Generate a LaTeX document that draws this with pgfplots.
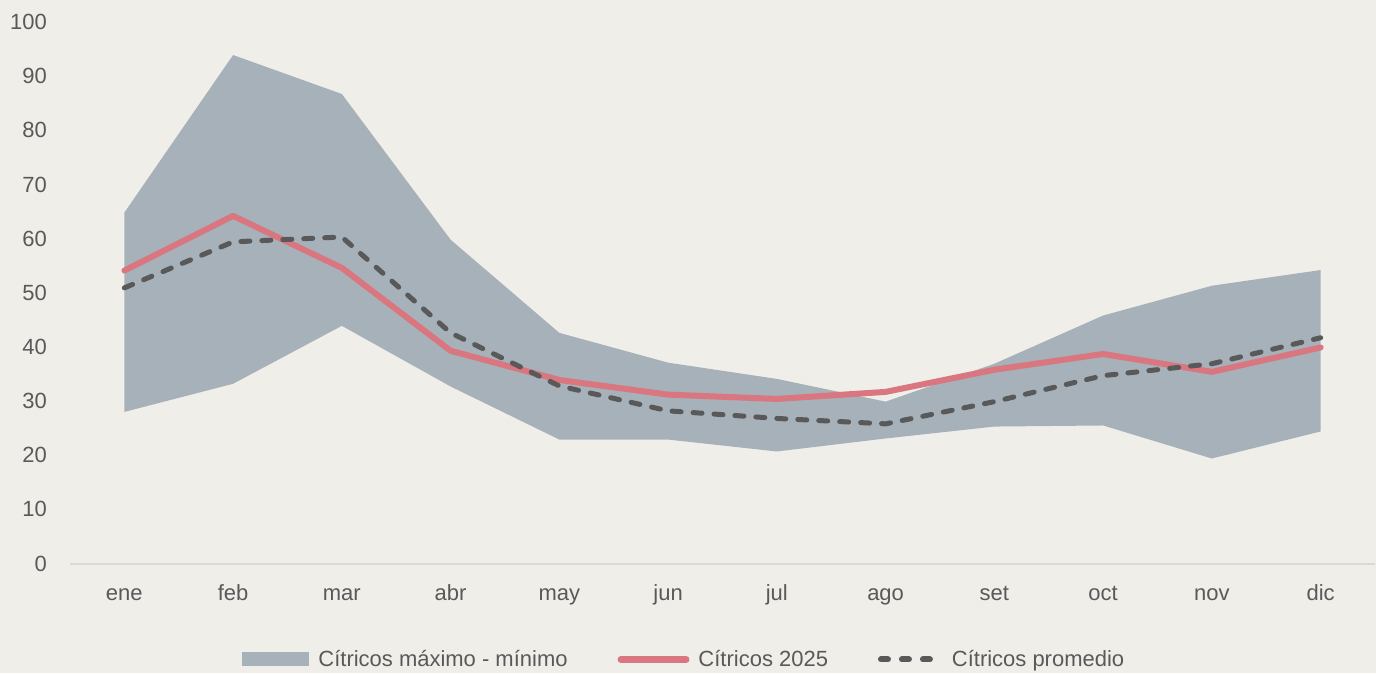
\documentclass[border=0pt]{standalone}
\usepackage{pgfplots}
\pgfplotsset{compat=1.18}
\usepgfplotslibrary{fillbetween}
\usepackage{fontspec}
\setmainfont{Liberation Sans}
\definecolor{bg}{HTML}{F0EEE9}
\definecolor{band}{HTML}{A7B1B9}
\definecolor{red25}{HTML}{D9767F}
\definecolor{prom}{HTML}{595959}
\definecolor{txt}{HTML}{595959}
\definecolor{axl}{HTML}{D9D9D9}
\pagecolor{bg}
\begin{document}
\begin{tikzpicture}
\path (0,0) rectangle (688pt,336pt);
\begin{axis}[
  at={(35pt,54pt)}, anchor=south west,
  scale only axis, width=653pt, height=271pt,
  xmin=-0.5, xmax=11.5, ymin=0, ymax=100,
  xtick={0,...,11},
  xticklabels={ene,feb,mar,abr,may,jun,jul,ago,set,oct,nov,dic},
  ytick={0,10,...,100},
  axis lines=left,
  y axis line style={draw=none},
  x axis line style={draw=axl, line width=1pt, -},
  major tick length=0pt,
  tick style={draw=none},
  /pgf/number format/assume math mode=true,
  ticklabel style={font=\fontsize{11}{13}\selectfont, text=txt},
  yticklabel style={xshift=-8pt},
  xticklabel style={anchor=base, yshift=-18.5pt},
  clip=false,
  legend columns=3,
  legend style={at={(0.470,-0.177)}, anchor=center, draw=none, fill=none,
    font=\fontsize{11}{13}\selectfont, text=txt,
    nodes={inner sep=0pt},
    /tikz/every even column/.style={column sep=25pt},
    /tikz/every odd column/.style={column sep=4.5pt}},
  legend cell align=left,
]
\addplot[name path=max, draw=none, forget plot] coordinates {
(0,64.8) (1,93.9) (2,86.7) (3,59.8) (4,42.6) (5,37.1) (6,34.1) (7,29.9) (8,36.9) (9,45.8) (10,51.3) (11,54.2)};
\addplot[name path=min, draw=none, forget plot] coordinates {
(0,28.0) (1,33.2) (2,43.9) (3,32.7) (4,22.9) (5,22.9) (6,20.7) (7,23.1) (8,25.3) (9,25.5) (10,19.4) (11,24.4)};
\addplot[fill=band, draw=none, legend image code/.code={\fill[band] (0pt,-3.5pt) rectangle (33.5pt,3.5pt);}] fill between[of=max and min];
\addlegendentry{Cítricos máximo - mínimo}
\addplot[red25, line width=3pt, line join=round, line cap=round,
  legend image code/.code={\draw[red25, line width=3.5pt, line cap=round] (1.75pt,0) -- (34.25pt,0);}] coordinates {
(0,54.1) (1,64.2) (2,54.6) (3,39.3) (4,33.9) (5,31.2) (6,30.4) (7,31.7) (8,35.8) (9,38.7) (10,35.4) (11,39.9)};
\addlegendentry{Cítricos 2025}
\addplot[prom, line width=2.5pt, line cap=round, line join=round, dash pattern=on 4.5pt off 6pt,
  legend image code/.code={\draw[prom, line width=3pt, line cap=round, dash pattern=on 3.5pt off 7pt] (1.5pt,0) -- (31pt,0);}] coordinates {
(0,50.9) (1,59.4) (2,60.3) (3,42.6) (4,32.8) (5,28.2) (6,26.8) (7,25.8) (8,29.9) (9,34.7) (10,36.9) (11,41.7)};
\addlegendentry{Cítricos promedio}
\end{axis}
\end{tikzpicture}
\end{document}
